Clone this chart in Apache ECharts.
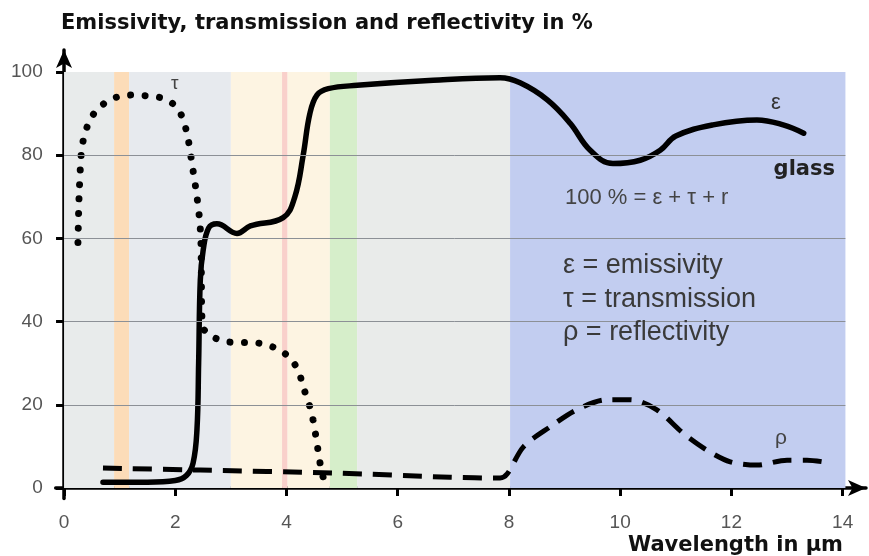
<!DOCTYPE html>
<html>
<head>
<meta charset="utf-8">
<script src="https://cdn.jsdelivr.net/npm/echarts@6/dist/echarts.min.js"></script>
<style>
  html, body { margin: 0; padding: 0; background: #fff; }
  #chart { width: 869px; height: 556px; }
</style>
</head>
<body>
<div id="chart"></div>
<script>
// wavelength in µm / value in %
const emissX = [0.7, 1.5, 2.0, 2.2, 2.32, 2.39, 2.42, 2.45, 2.5, 2.6, 2.75, 3.11, 3.35, 3.94, 4.15, 4.3, 4.42, 4.55, 4.75, 5.27, 6.64, 7.84, 8.2, 8.69, 9.1, 9.46, 9.87, 10.36, 10.72, 11.0, 11.67, 12.46, 12.93, 13.3];
const emissY = [1.4, 1.4, 1.8, 3.0, 6, 14, 30, 50, 57, 62.5, 63.5, 61.2, 63, 65, 70, 80, 90, 94.5, 96, 96.8, 98, 98.6, 97.4, 93.3, 87.7, 81.2, 78, 78.8, 81.2, 84.6, 87.3, 88.5, 87.3, 85.3];

const transX = [0.25, 0.27, 0.31, 0.36, 0.45, 0.57, 0.76, 1.0, 1.26, 1.53, 1.78, 2.01, 2.14, 2.23, 2.3, 2.38, 2.43, 2.46, 2.47, 2.475, 2.5, 2.61, 2.86, 3.11, 3.38, 3.65, 3.9, 4.1, 4.23, 4.3, 4.39, 4.46, 4.51, 4.55, 4.59, 4.65, 4.73];
const transY = [59, 70, 80.5, 84.5, 88, 90.6, 92.8, 94.2, 94.5, 94.2, 93.7, 91.8, 88.7, 84, 78, 71, 65.5, 60, 50, 43, 38.5, 36.8, 35.3, 35, 35, 34.4, 33, 30.7, 27.6, 24.3, 20.9, 17.5, 13.9, 10.6, 7, 3, 0.2];

const reflX = [0.7, 2.45, 4.84, 6.94, 7.84, 7.97, 8.26, 8.74, 9.22, 9.76, 10.18, 10.66, 11.13, 11.56, 11.98, 12.46, 13.0, 13.36, 13.78];
const reflY = [4.8, 4.3, 3.6, 2.6, 2.4, 3.4, 9.9, 14.7, 18.8, 21.2, 21.2, 18.8, 13.2, 9.1, 6.3, 5.5, 6.7, 6.7, 6.0];

// spectral bands behind the curves
const bandFrom = [0, 0.9, 1.17, 3.0, 3.92, 4.02, 4.78, 5.27, 8.02];
const bandTo = [0.9, 1.17, 3.0, 3.92, 4.02, 4.78, 5.27, 8.02, 14.05];
const bandColors = ['#e8ebeb', '#fcdcb8', '#e7eaee', '#fdf4e2', '#f9d0cb', '#fdf4e2', '#d6eeca', '#e9ebea', '#c2cdf0'];

const xTicks = [0, 2, 4, 6, 8, 10, 12, 14];
const yTicks = [0, 20, 40, 60, 80, 100];
const gridVals = [20, 40, 60, 80];

const zip = (xs, ys) => xs.map((x, i) => [x, ys[i]]);

const chart = echarts.init(document.getElementById('chart'));

const labelFont = 'Liberation Sans, Arial, sans-serif';
const boldFont = 'DejaVu Sans, Verdana, sans-serif';

chart.setOption({
  animation: false,
  title: {
    text: 'Emissivity, transmission and reflectivity in %',
    left: 56,
    top: 8,
    textStyle: { fontFamily: boldFont, fontWeight: 'bold', fontSize: 21, color: '#111' }
  },
  grid: { left: 55.7, right: 3, top: 50, bottom: 57.6, containLabel: false },
  xAxis: {
    type: 'value',
    min: -0.15,
    max: 14.42,
    splitLine: { show: false },
    axisLine: {
      lineStyle: { color: '#000', width: 3.5 },
      symbol: ['none', 'arrow'],
      symbolSize: [12, 18]
    },
    axisTick: { customValues: xTicks, length: 8, lineStyle: { color: '#000', width: 3 } },
    axisLabel: {
      customValues: xTicks,
      margin: 15,
      fontSize: 19,
      fontFamily: labelFont,
      color: '#555'
    }
  },
  yAxis: {
    type: 'value',
    min: -2.5,
    max: 105.3,
    splitLine: { show: false },
    axisLine: {
      lineStyle: { color: '#000', width: 3.5 },
      symbol: ['none', 'arrow'],
      symbolSize: [12, 18]
    },
    axisTick: { customValues: yTicks, length: 8, lineStyle: { color: '#000', width: 3 } },
    axisLabel: {
      customValues: yTicks,
      margin: 13,
      fontSize: 19,
      fontFamily: labelFont,
      color: '#555'
    }
  },
  series: [
    {
      name: 'bands',
      type: 'line',
      data: [],
      z: 1,
      silent: true,
      markArea: {
        silent: true,
        data: bandFrom.map((from, i) => [
          { xAxis: from, yAxis: 0, itemStyle: { color: bandColors[i] } },
          { xAxis: bandTo[i], yAxis: 100 }
        ])
      },
      markLine: {
        silent: true,
        symbol: 'none',
        label: { show: false },
        lineStyle: { color: '#8c9096', width: 1, type: 'solid' },
        data: gridVals.map((v) => [{ coord: [0, v] }, { coord: [14.05, v] }])
      }
    },
    {
      name: 'ε',
      type: 'line',
      data: zip(emissX, emissY),
      smooth: 0.4,
      symbol: 'none',
      z: 4,
      lineStyle: { color: '#000', width: 5.5, cap: 'round', join: 'round' }
    },
    {
      name: 'τ',
      type: 'line',
      data: zip(transX, transY),
      smooth: 0.25,
      symbol: 'none',
      z: 3,
      lineStyle: { color: '#000', width: 7, type: [0.01, 14.5], cap: 'round' }
    },
    {
      name: 'ρ',
      type: 'line',
      data: zip(reflX, reflY),
      smooth: 0.3,
      symbol: 'none',
      z: 3,
      lineStyle: { color: '#000', width: 5, type: [19, 11] }
    }
  ],
  graphic: [
    { type: 'text', x: 171, y: 74, z: 10, style: { text: 'τ', font: '19px ' + labelFont, fill: '#444' } },
    { type: 'text', x: 771, y: 92, z: 10, style: { text: 'ε', font: '22px ' + labelFont, fill: '#333' } },
    { type: 'text', x: 835, y: 170, z: 10, style: { text: 'glass', font: 'bold 21px ' + boldFont, fill: '#222', align: 'right', verticalAlign: 'middle' } },
    { type: 'text', x: 565, y: 198, z: 10, style: { text: '100 % = ε + τ + r', font: '22px ' + labelFont, fill: '#444', verticalAlign: 'middle' } },
    { type: 'text', x: 563, y: 266, z: 10, style: { text: 'ε = emissivity', font: '27px ' + labelFont, fill: '#3a3a3a', verticalAlign: 'middle' } },
    { type: 'text', x: 563, y: 300, z: 10, style: { text: 'τ = transmission', font: '27px ' + labelFont, fill: '#3a3a3a', verticalAlign: 'middle' } },
    { type: 'text', x: 563, y: 333, z: 10, style: { text: 'ρ = reflectivity', font: '27px ' + labelFont, fill: '#3a3a3a', verticalAlign: 'middle' } },
    { type: 'text', x: 775, y: 428, z: 10, style: { text: 'ρ', font: '21px ' + labelFont, fill: '#444' } },
    { type: 'text', x: 843, y: 546, z: 10, style: { text: 'Wavelength in μm', font: 'bold 21px ' + boldFont, fill: '#111', align: 'right', verticalAlign: 'middle' } }
  ]
});
</script>
</body>
</html>
